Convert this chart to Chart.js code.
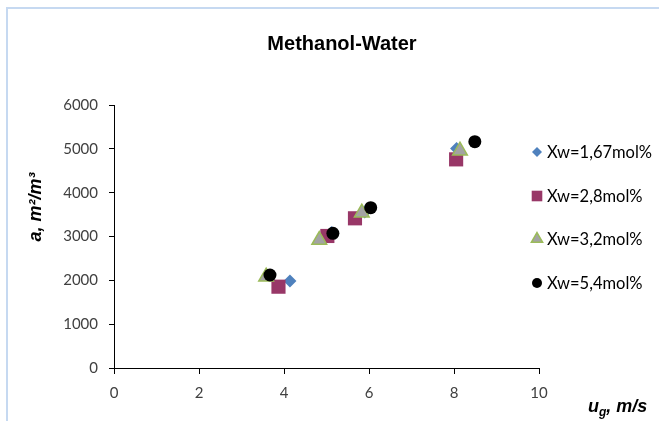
<!DOCTYPE html>
<html lang="en">

<head>
  <meta charset="UTF-8">
  <title>Methanol-Water</title>
  <script src="https://cdn.jsdelivr.net/npm/chart.js"></script>
  <style>
    html, body { margin: 0; padding: 0; background: #fff; }
    #wrap { position: relative; width: 659px; height: 421px; }
  </style>
</head>

<body>
  <div id="wrap"><canvas id="chart" width="659" height="421"></canvas></div>

  <script>
    // Series labels
    const seriesNames = ['Xw=1,67mol%', 'Xw=2,8mol%', 'Xw=3,2mol%', 'Xw=5,4mol%'];

    // gas velocity u_g (m/s) for each series
    const ug167 = [4.14, 5.12, 5.9, 8.06];
    const ug28 = [3.87, 5.02, 5.67, 8.05];
    const ug32 = [3.58, 4.83, 5.83, 8.14];
    const ug54 = [3.67, 5.15, 6.04, 8.49];

    // interfacial area a (m2/m3)
    const a167 = [1985, 3090, 3560, 5008];
    const a28 = [1855, 3012, 3415, 4760];
    const a32 = [2083, 2920, 3543, 4957];
    const a54 = [2122, 3073, 3657, 5163];

    const xTicks = [0, 2, 4, 6, 8, 10];
    const yTicks = [0, 1000, 2000, 3000, 4000, 5000, 6000];

    function pts(xs, ys) {
      return xs.map((x, i) => ({ x: x, y: ys[i] }));
    }

    const styles = [
      { pointStyle: 'rectRot', radius: 6.5, bg: '#4f81bd', border: '#4f81bd', bw: 0, legendR: 5 },
      { pointStyle: 'rect', radius: 10, bg: '#983767', border: '#983767', bw: 0, legendR: 7.5 },
      { pointStyle: 'triangle', radius: 8.5, bg: '#a3a3a3', border: '#9bbb59', bw: 1.5, legendR: 6.5 },
      { pointStyle: 'circle', radius: 6.5, bg: '#000000', border: '#000000', bw: 0, legendR: 5 }
    ];

    const allData = [pts(ug167, a167), pts(ug28, a28), pts(ug32, a32), pts(ug54, a54)];

    const datasets = allData.map((d, i) => ({
      label: seriesNames[i],
      data: d,
      pointStyle: styles[i].pointStyle,
      pointRadius: styles[i].radius,
      pointHoverRadius: styles[i].radius,
      pointBackgroundColor: styles[i].bg,
      pointBorderColor: styles[i].border,
      pointBorderWidth: styles[i].bw,
      showLine: false,
      order: 4 - i
    }));

    // texts, legend and frame drawn at fixed spots
    const extras = {
      id: 'extras',
      beforeDraw(chart) {
        const ctx = chart.ctx;
        ctx.save();
        ctx.strokeStyle = '#c6d9f1';
        ctx.lineWidth = 2;
        ctx.beginPath();
        ctx.moveTo(7, 421);
        ctx.lineTo(7, 8);
        ctx.lineTo(659, 8);
        ctx.stroke();
        ctx.restore();
      },
      afterDraw(chart) {
        const ctx = chart.ctx;
        ctx.save();
        ctx.fillStyle = '#000';

        // title
        ctx.font = 'bold 20px "Liberation Sans", Arial, sans-serif';
        ctx.textAlign = 'center';
        ctx.textBaseline = 'alphabetic';
        ctx.fillText('Methanol-Water', 342, 50);

        // y axis title
        ctx.save();
        ctx.translate(41, 207);
        ctx.rotate(-Math.PI / 2);
        ctx.font = 'bold italic 18px "Liberation Sans", Arial, sans-serif';
        ctx.textAlign = 'center';
        ctx.fillText('a, m\u00b2/m\u00b3', 0, 0);
        ctx.restore();

        // x axis title with subscript g
        ctx.textAlign = 'left';
        ctx.font = 'bold italic 18px "Liberation Sans", Arial, sans-serif';
        let x = 588;
        ctx.fillText('u', x, 412);
        x += ctx.measureText('u').width;
        ctx.font = 'bold italic 12px "Liberation Sans", Arial, sans-serif';
        ctx.fillText('g', x, 416);
        x += ctx.measureText('g').width;
        ctx.font = 'bold italic 18px "Liberation Sans", Arial, sans-serif';
        ctx.fillText(', m/s', x, 412);

        // legend
        const legY = [152, 196, 239, 283];
        const draw = Chart.helpers && Chart.helpers.drawPoint;
        seriesNames.forEach((name, i) => {
          const s = styles[i];
          ctx.fillStyle = s.bg;
          ctx.strokeStyle = s.border;
          ctx.lineWidth = s.bw;
          if (draw) {
            draw(ctx, { pointStyle: s.pointStyle, radius: s.legendR, rotation: 0, borderWidth: s.bw }, 537, legY[i]);
          }
          ctx.fillStyle = '#000';
          ctx.font = '16.5px Lato, "Open Sans", sans-serif';
          ctx.textAlign = 'left';
          ctx.textBaseline = 'middle';
          ctx.fillText(name, 547, legY[i] + 1);
        });
        ctx.restore();
      }
    };

    const ctx = document.getElementById('chart').getContext('2d');
    const chart = new Chart(ctx, {
      type: 'scatter',
      data: { datasets: datasets },
      options: {
        responsive: false,
        animation: false,
        events: [],
        layout: { padding: { left: 0, right: 120, top: 105, bottom: 0 } },
        plugins: {
          legend: { display: false },
          title: { display: false },
          tooltip: { enabled: false }
        },
        scales: {
          x: {
            type: 'linear',
            min: 0,
            max: 10,
            afterFit(scale) { scale.height = 53; },
            afterBuildTicks(scale) { scale.ticks = xTicks.map(v => ({ value: v })); },
            grid: { display: true, drawOnChartArea: false, drawTicks: true, tickLength: 6, tickColor: '#000' },
            border: { display: true, color: '#000', width: 1 },
            ticks: { color: '#404040', font: { family: 'Lato', size: 15 }, padding: 10, maxRotation: 0,
              callback: v => String(v) }
          },
          y: {
            type: 'linear',
            min: 0,
            max: 6000,
            afterFit(scale) { scale.width = 114; },
            afterBuildTicks(scale) { scale.ticks = yTicks.map(v => ({ value: v })); },
            grid: { display: true, drawOnChartArea: false, drawTicks: true, tickLength: 5, tickColor: '#000' },
            border: { display: true, color: '#000', width: 1 },
            ticks: { color: '#404040', font: { family: 'Lato', size: 15 }, padding: 11,
              callback: v => String(v) }
          }
        }
      },
      plugins: [extras]
    });
  </script>
</body>

</html>
